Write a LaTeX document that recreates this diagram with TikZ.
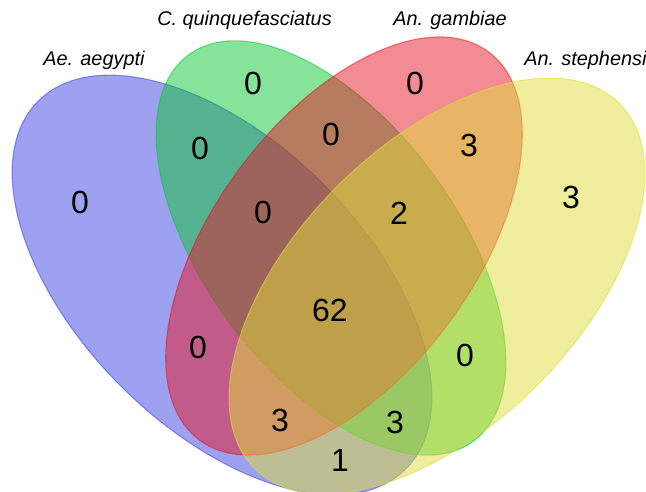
\documentclass[tikz,border=0pt]{standalone}
\usepackage{fontspec}
\setmainfont{Liberation Sans}
\definecolor{cA}{RGB}{61,65,225}
\definecolor{cB}{RGB}{13,199,53}
\definecolor{cC}{RGB}{229,23,37}
\definecolor{cD}{RGB}{223,221,57}
\begin{document}
\begin{tikzpicture}[x=0.75pt,y=0.75pt,
  setA/.style={fill=cA, fill opacity=0.5, draw=cA, draw opacity=0.55, line width=0.8pt},
  setB/.style={fill=cB, fill opacity=0.5, draw=cB, draw opacity=0.55, line width=0.8pt},
  setC/.style={fill=cC, fill opacity=0.5, draw=cC, draw opacity=0.55, line width=0.8pt},
  setD/.style={fill=cD, fill opacity=0.5, draw=cD, draw opacity=0.55, line width=0.8pt},
  num/.style={font=\fontsize{24}{28}\selectfont, inner sep=0pt, text=black},
  lab/.style={font=\fontsize{14.9}{18}\selectfont\itshape, inner sep=0pt, anchor=base west, text=black}]
\useasboundingbox (0,0) rectangle (646,-492);
% ellipses
\path[setA, rotate around={-45:(222,-285)}] (222,-285) ellipse [x radius=260, y radius=143];
\path[setB, rotate around={-53.6:(331,-248)}] (331,-248) ellipse [x radius=240, y radius=126];
\path[setC, rotate around={53.3:(344,-246)}] (344,-246) ellipse [x radius=242, y radius=130];
\path[setD, rotate around={45:(437,-286)}] (437,-286) ellipse [x radius=258, y radius=141];
% category labels
\node[lab] (lA) at (43,-65) {Ae. aegypti};
\node[lab] (lB) at (157,-26) {C. quinquefasciatus};
\node[lab] (lC) at (393,-26) {An. gambiae};
\node[lab] (lD) at (524,-66) {An. stephensi};
% counts
\node[num] (nA) at (80,-202) {0};
\node[num] (nB) at (253,-83) {0};
\node[num] (nC) at (415,-83) {0};
\node[num] (nD) at (571,-197) {3};
\node[num] (nAB) at (200,-148) {0};
\node[num] (nBC) at (331,-134) {0};
\node[num] (nCD) at (469,-145) {3};
\node[num] (nABC) at (263,-212) {0};
\node[num] (nBCD) at (399,-213) {2};
\node[num] (nABCD) at (330,-310) {62};
\node[num] (nAC) at (198,-347) {0};
\node[num] (nBD) at (465,-355) {0};
\node[num] (nACD) at (280,-420) {3};
\node[num] (nABD) at (395,-422) {3};
\node[num] (nAD) at (340,-460) {1};
\end{tikzpicture}
\end{document}
